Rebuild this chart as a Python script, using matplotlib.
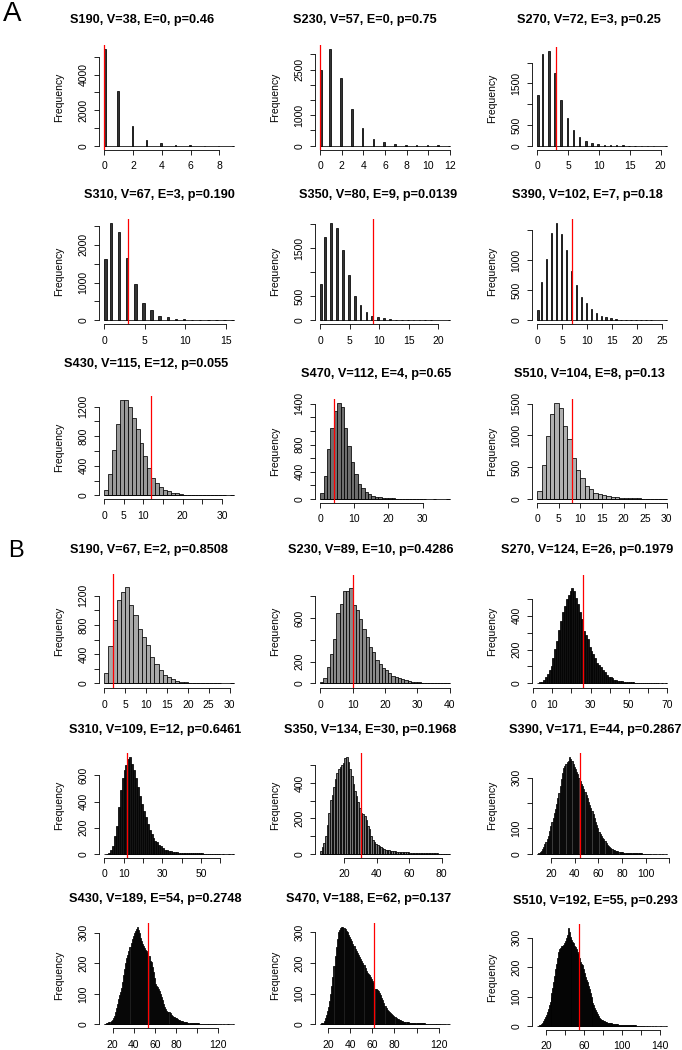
import numpy as np
import matplotlib
matplotlib.use("Agg")
import matplotlib.pyplot as plt

plt.rcParams['font.family'] = ['Liberation Sans', 'DejaVu Sans']

# ---------------- data ----------------
titles_a = ["S190, V=38, E=0, p=0.46", "S230, V=57, E=0, p=0.75", "S270, V=72, E=3, p=0.25",
            "S310, V=67, E=3, p=0.190", "S350, V=80, E=9, p=0.0139", "S390, V=102, E=7, p=0.18",
            "S430, V=115, E=12, p=0.055", "S470, V=112, E=4, p=0.65", "S510, V=104, E=8, p=0.13"]
titles_b = ["S190, V=67, E=2, p=0.8508", "S230, V=89, E=10, p=0.4286", "S270, V=124, E=26, p=0.1979",
            "S310, V=109, E=12, p=0.6461", "S350, V=134, E=30, p=0.1968", "S390, V=171, E=44, p=0.2867",
            "S430, V=189, E=54, p=0.2748", "S470, V=188, E=62, p=0.137", "S510, V=192, E=55, p=0.293"]
e_a = [0, 0, 3, 3, 9, 7, 12, 4, 8]
e_b = [2, 10, 26, 12, 30, 44, 54, 62, 55]

# Panel A, first six: counts at integer values 0,1,2,...
a190 = [5450, 3100, 1120, 320, 130, 55, 15, 5, 2, 1]
a230 = [2500, 3180, 2225, 1200, 595, 230, 130, 65, 35, 20, 10, 5, 2]
a270 = [1220, 2210, 2290, 1740, 1100, 675, 375, 200, 105, 56, 32, 20, 12, 8, 5, 3, 2, 1, 1, 1, 0, 1]
a310 = [1620, 2565, 2320, 1645, 955, 470, 265, 125, 88, 44, 27, 15, 8, 4, 2, 1, 1]
a350 = [750, 1735, 2015, 1910, 1460, 935, 505, 325, 180, 97, 62, 42, 25, 15, 10, 6, 4, 2, 1, 1, 0, 0, 1]
a390 = [178, 633, 1022, 1456, 1611, 1433, 1167, 822, 594, 389, 283, 183, 122, 72, 50, 33, 22, 14, 9, 6,
        4, 2, 1, 1, 0, 0, 1]
# Panel A, last three: counts in unit-width bins starting at 0
a430 = [76, 292, 607, 966, 1294, 1294, 1200, 1047, 890, 706, 539, 373, 238, 166, 112, 76, 54, 36, 27, 18,
        12, 9, 6, 5, 4, 3, 2, 2, 1, 1, 1, 0, 1]
a470 = [82, 339, 732, 1051, 1294, 1415, 1352, 1051, 785, 543, 373, 218, 155, 97, 68, 48, 34, 24, 19, 13,
        9, 7, 5, 4, 3, 2, 2, 1, 1, 1, 1, 0, 0, 1, 0, 0, 0, 1]
a510 = [130, 539, 995, 1342, 1513, 1425, 1150, 948, 648, 461, 332, 202, 150, 98, 73, 57, 41, 31, 26, 21,
        15, 11, 8, 6, 5, 4, 3, 2, 2, 1]

# Panel B: counts in unit-width bins, first bin edge in start_b
start_b = [0, 0, 2, 0, 5, 8, 12, 13, 11]
b190 = [137, 513, 870, 1145, 1246, 1320, 1077, 939, 747, 641, 527, 357, 261, 183, 115, 82, 55, 37, 23, 14,
        9, 6, 5, 3, 2, 1, 1, 1, 0, 0, 1]
b230 = [15, 46, 152, 274, 411, 646, 731, 844, 847, 877, 716, 676, 594, 503, 426, 335, 289, 213, 174, 137,
        122, 91, 67, 55, 46, 37, 27, 21, 15, 12, 9, 7, 5, 4, 3, 2, 2, 1, 1, 1]
b270 = [0, 5, 10, 20, 40, 55, 80, 100, 150, 205, 250, 315, 370, 420, 460, 500, 525, 545, 565, 545,
        505, 470, 420, 380, 310, 285, 260, 215, 190, 175, 150, 120, 110, 95, 80, 65, 50, 40, 35, 30,
        22, 18, 15, 13, 11, 9, 8, 7, 6, 5, 5, 4, 3, 3, 3, 2, 2, 2, 2, 1,
        1, 1, 1, 1, 0, 1, 0, 1]
b310 = [0, 2, 5, 30, 60, 140, 216, 355, 490, 580, 640, 680, 725, 740, 690, 640, 580, 510, 440, 385,
        330, 280, 225, 180, 155, 122, 99, 88, 68, 58, 45, 33, 27, 23, 20, 17, 16, 13, 10, 9,
        8, 7, 6, 6, 5, 5, 4, 4, 3, 3, 3, 2, 2, 2, 1, 1, 1, 1, 1, 1, 0, 1, 0, 0, 1, 0, 1]
b350 = [15, 40, 63, 100, 165, 230, 303, 335, 375, 425, 455, 480, 492, 500, 515, 540, 546, 520, 478, 440,
        395, 355, 325, 290, 260, 233, 226, 215, 190, 160, 138, 100, 80, 65, 56, 48, 42, 36, 31, 27,
        24, 22, 20, 18, 16, 15, 14, 13, 13, 12, 11, 10, 9, 9, 8, 7, 7, 6, 6, 5,
        5, 4, 4, 4, 3, 3, 3, 3, 2, 2, 2, 2, 2, 1, 1, 1, 1, 1, 1, 1]
b390 = [1, 3, 7, 12, 20, 27, 38, 48, 60, 72, 90, 108, 125, 142, 160, 178, 195, 218, 240, 268,
        293, 318, 338, 345, 352, 360, 365, 380, 372, 366, 352, 342, 332, 322, 315, 300, 286, 276, 267, 255,
        243, 232, 218, 205, 192, 182, 168, 155, 140, 126, 115, 100, 87, 77, 70, 63, 57, 49, 42, 35,
        30, 26, 22, 18, 16, 14, 12, 11, 10, 9, 8, 7, 6, 5, 5, 4, 4, 4, 3, 3,
        3, 3, 3, 2, 2, 2, 2, 2, 2, 1, 1, 1, 1, 1, 1, 1, 1, 0, 1, 0,
        1, 0, 0, 1, 0, 0, 1, 0, 0, 1]
b430 = [1, 2, 3, 5, 7, 9, 12, 14, 20, 27, 40, 55, 68, 82, 95, 105, 120, 138, 160, 182,
        200, 218, 228, 240, 252, 265, 280, 290, 298, 305, 312, 318, 310, 298, 283, 272, 262, 256, 251, 245,
        240, 232, 224, 209, 204, 188, 172, 152, 133, 126, 121, 115, 110, 100, 90, 80, 68, 58, 50, 45,
        42, 39, 36, 32, 28, 25, 23, 21, 20, 18, 16, 14, 12, 11, 10, 9, 8, 8, 7, 6,
        6, 5, 5, 4, 4, 4, 3, 3, 3, 3, 2, 2, 2, 2, 2, 2, 2, 2, 2, 1,
        1, 1, 1, 1, 1, 1, 1, 0, 1, 0, 1, 0, 0, 1, 0, 0, 0, 1, 0, 0, 0, 0, 1]
b470 = [1, 3, 5, 11, 20, 30, 42, 55, 75, 98, 124, 155, 190, 222, 251, 278, 300, 307, 313, 315,
        316, 313, 310, 305, 300, 292, 285, 278, 270, 262, 254, 246, 238, 232, 226, 220, 213, 205, 198, 192,
        182, 173, 167, 164, 160, 154, 148, 142, 136, 116, 114, 113, 108, 102, 95, 86, 78, 69, 61, 53,
        47, 42, 39, 36, 33, 31, 28, 25, 22, 19, 16, 14, 13, 11, 10, 9, 8, 8, 7, 7,
        6, 6, 5, 5, 5, 4, 4, 4, 4, 3, 3, 3, 3, 3, 3, 2, 2, 2, 2, 2,
        2, 2, 2, 1, 1, 1, 1, 1, 1, 0, 1, 0, 1, 0, 0, 1, 0]
b510 = [0, 1, 2, 4, 7, 12, 18, 25, 32, 38, 48, 58, 70, 83, 98, 112, 128, 150, 171, 192,
        212, 230, 250, 262, 266, 270, 272, 275, 283, 290, 300, 310, 332, 318, 303, 297, 292, 286, 281, 273,
        268, 260, 252, 246, 232, 218, 212, 206, 195, 180, 165, 156, 148, 137, 126, 113, 100, 90, 80, 70,
        62, 55, 47, 40, 34, 29, 25, 22, 20, 18, 16, 15, 13, 12, 11, 10, 9, 9, 8, 8,
        7, 7, 6, 6, 6, 5, 5, 5, 5, 5, 4, 4, 4, 3, 3, 3, 3, 3, 2, 2,
        2, 2, 2, 2, 1, 1, 1, 1, 1, 1, 1, 1, 1, 0, 1, 1, 0, 1, 0, 0,
        1, 0, 0, 0, 1, 0, 0, 0, 0, 1, 0, 0, 0, 0, 0, 1]

# axis ticks and labels
xticks_a = [[0, 2, 4, 6, 8], [0, 2, 4, 6, 8, 10, 12], [0, 5, 10, 15, 20],
            [0, 5, 10, 15], [0, 5, 10, 15, 20], [0, 5, 10, 15, 20, 25],
            [0, 5, 10, 15, 20, 25, 30], [0, 10, 20, 30], [0, 5, 10, 15, 20, 25, 30]]
xlabels_a = [["0", "2", "4", "6", "8"], ["0", "2", "4", "6", "8", "10", "12"], ["0", "5", "10", "15", "20"],
             ["0", "5", "10", "15"], ["0", "5", "10", "15", "20"], ["0", "5", "10", "15", "20", "25"],
             ["0", "5", "10", "", "20", "", "30"], ["0", "10", "20", "30"],
             ["0", "5", "10", "15", "20", "25", "30"]]
yticks_a = [[0, 1000, 2000, 3000, 4000, 5000], [0, 500, 1000, 1500, 2000, 2500, 3000],
            [0, 500, 1000, 1500, 2000], [0, 500, 1000, 1500, 2000, 2500], [0, 500, 1000, 1500, 2000],
            [0, 500, 1000, 1500], [0, 200, 400, 600, 800, 1000, 1200],
            [0, 200, 400, 600, 800, 1000, 1200, 1400], [0, 500, 1000, 1500]]
ylabels_a = [["0", "", "2000", "", "4000", ""], ["0", "", "1000", "", "", "2500", ""],
             ["0", "500", "", "1500", ""], ["0", "", "1000", "", "2000", ""], ["0", "500", "", "1500", ""],
             ["0", "500", "1000", ""], ["0", "", "400", "", "800", "", "1200"],
             ["0", "", "400", "", "800", "", "", "1400"], ["0", "500", "1000", "1500"]]
xticks_b = [[0, 5, 10, 15, 20, 25, 30], [0, 10, 20, 30, 40], [0, 10, 20, 30, 40, 50, 60, 70],
            [0, 10, 20, 30, 40, 50, 60], [20, 40, 60, 80], [20, 40, 60, 80, 100, 120],
            [20, 40, 60, 80, 100, 120], [20, 40, 60, 80, 100, 120], [20, 40, 60, 80, 100, 120, 140]]
xlabels_b = [["0", "5", "10", "15", "20", "25", "30"], ["0", "10", "20", "30", "40"],
             ["0", "10", "", "30", "", "50", "", "70"], ["0", "10", "", "30", "", "50", ""],
             ["20", "40", "60", "80"], ["20", "40", "60", "80", "100", ""],
             ["20", "40", "60", "80", "", "120"], ["20", "40", "60", "80", "", "120"],
             ["20", "", "60", "", "100", "", "140"]]
yticks_b = [[0, 200, 400, 600, 800, 1000, 1200], [0, 200, 400, 600, 800], [0, 100, 200, 300, 400, 500],
            [0, 200, 400, 600], [0, 100, 200, 300, 400, 500], [0, 100, 200, 300],
            [0, 100, 200, 300], [0, 100, 200, 300], [0, 100, 200, 300]]
ylabels_b = [["0", "", "400", "", "800", "", "1200"], ["0", "200", "", "600", ""],
             ["0", "", "200", "", "400", ""], ["0", "200", "400", "600"], ["0", "", "200", "", "400", ""],
             ["0", "100", "", "300"], ["0", "100", "200", "300"], ["0", "100", "200", "300"],
             ["0", "100", "200", "300"]]

# ---------------- layout / style ----------------
FIG_W, FIG_H = 682, 1050
COL_LEFT = [99, 315, 532]
COL_W = 140
# (plot top, plot bottom, title centre x, title centre y) in pixels
LAYOUT_A = [(45, 149.5, 142, 20.5), (45, 149.5, 365, 20.5), (46.7, 149.5, 589, 20.5),
            (219.3, 324.3, 159, 194.7), (219.3, 324.3, 378, 194.7), (219.3, 324.3, 587, 194.7),
            (395.7, 499.3, 146, 363.7), (399, 502.7, 376, 373.7), (399, 502.7, 589, 373.7)]
LAYOUT_B = [(574, 688.3, 148.5, 550.5), (575, 688.3, 371, 550.5), (575, 688.3, 587, 550.5),
            (753.3, 857.7, 155, 729.7), (753.3, 857.7, 370, 729.7), (753.3, 857.7, 595, 729.7),
            (923.3, 1028.3, 155, 898.7), (923.3, 1028.3, 369, 898.7), (924.3, 1030, 595, 901.2)]
SPIKE_W = [0.1, 0.15, 0.25, 0.3, 0.3, 0.3]
FILL_A = ['#333333'] * 6 + ['#9a9a9a', '#6e6e6e', '#b0b0b0']
FILL_B = ['#a8a8a8', '#8a8a8a', '#111111', '#151515', '#787878', '#3a3a3a', '#1e1e1e', '#1e1e1e', '#111111']
LW = 0.55

fig = plt.figure(figsize=(FIG_W / 100, FIG_H / 100), dpi=100)


def make_axes(col, top, bottom):
    return fig.add_axes([COL_LEFT[col] / FIG_W, 1 - bottom / FIG_H,
                         COL_W / FIG_W, (bottom - top) / FIG_H])


def draw(ax, counts, start, spike_w, e_val, xt, xtl, yt, ytl, ypad, fill):
    counts = np.asarray(counts, dtype=float)
    n = len(counts)
    if spike_w is not None:
        vals = start + np.arange(n)
        lefts = np.where(vals > vals[0], vals - spike_w, vals)
        widths = np.full(n, spike_w)
        lo, hi = vals[0], vals[-1]
    else:
        edges = start + np.arange(n + 1)
        lefts = edges[:-1]
        widths = np.ones(n)
        lo, hi = edges[0], edges[-1]
    keep = counts > 0
    ax.bar(lefts[keep], counts[keep], width=widths[keep], align='edge',
           facecolor=fill, edgecolor='black', linewidth=LW, zorder=2)
    ax.plot([lo, hi], [0, 0], color='black', lw=LW, solid_capstyle='butt', zorder=2)
    ax.axvline(e_val, color='red', lw=0.9, zorder=3)
    rng = hi - lo
    ax.set_xlim(lo - 0.04 * rng, hi + 0.04 * rng)
    m = counts.max()
    ax.set_ylim(-ypad[0] * m, ypad[1] * m)
    for s in ['top', 'right']:
        ax.spines[s].set_visible(False)
    for s in ['left', 'bottom']:
        ax.spines[s].set_linewidth(0.6)
    ax.spines['left'].set_bounds(yt[0], yt[-1])
    ax.spines['bottom'].set_bounds(xt[0], xt[-1])
    ax.set_xticks(xt, labels=xtl)
    ax.set_yticks(yt, labels=ytl, rotation=90, va='center')
    ax.tick_params(direction='out', length=3.6, width=0.6, labelsize=7.5)
    ax.tick_params(axis='x', pad=4.5)
    ax.tick_params(axis='y', pad=4.0)
    ax.set_ylabel('Frequency', fontsize=7.5, va='center')
    ax.yaxis.set_label_coords(-40 / COL_W, 0.5)


counts_a = [a190, a230, a270, a310, a350, a390, a430, a470, a510]
counts_b = [b190, b230, b270, b310, b350, b390, b430, b470, b510]

for i in range(9):
    top, bottom, tx, ty = LAYOUT_A[i]
    ax = make_axes(i % 3, top, bottom)
    sw = SPIKE_W[i] if i < 6 else None
    draw(ax, counts_a[i], 0, sw, e_a[i], xticks_a[i], xlabels_a[i], yticks_a[i], ylabels_a[i],
         (0.04, 1.04), FILL_A[i])
    fig.text(tx / FIG_W, 1 - ty / FIG_H, titles_a[i], ha='center', va='center',
             fontsize=9.2, fontweight='bold')

for i in range(9):
    top, bottom, tx, ty = LAYOUT_B[i]
    ax = make_axes(i % 3, top, bottom)
    ypad = (0.052, 1.135) if i < 3 else (0.04, 1.04)
    draw(ax, counts_b[i], start_b[i], None, e_b[i], xticks_b[i], xlabels_b[i], yticks_b[i], ylabels_b[i],
         ypad, FILL_B[i])
    fig.text(tx / FIG_W, 1 - ty / FIG_H, titles_b[i], ha='center', va='center',
             fontsize=9.2, fontweight='bold')

fig.text(12 / FIG_W, 1 - 14 / FIG_H, 'A', ha='center', va='center', fontsize=20)
fig.text(16 / FIG_W, 1 - 551 / FIG_H, 'B', ha='center', va='center', fontsize=17)

fig.savefig('out.png', dpi=100)
